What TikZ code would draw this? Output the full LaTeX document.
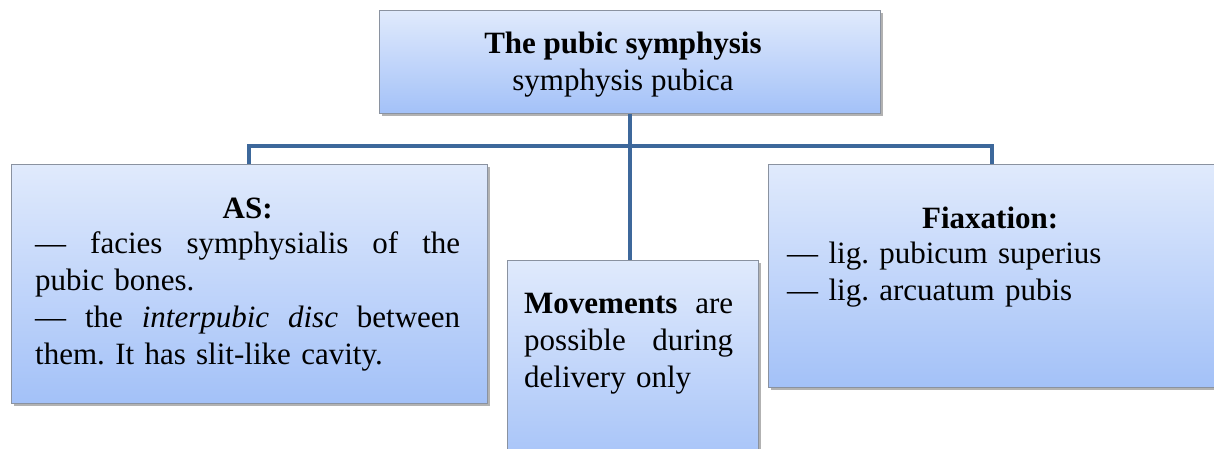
\documentclass[tikz,border=0pt]{standalone}
\usepackage{fontspec}
\setmainfont{Liberation Serif}
\usetikzlibrary{shadows}

\definecolor{boxtop}{RGB}{224,234,252}
\definecolor{boxbot}{RGB}{163,193,248}
\definecolor{boxrule}{RGB}{138,146,160}
\definecolor{linkblue}{RGB}{61,104,155}

% a line whose words are spread over the given width
\newcommand{\spreadline}[2]{\hbox to #1{#2}}

\tikzset{
  panel/.style={draw=boxrule, line width=0.9pt, top color=boxtop, bottom color=boxbot,
    inner sep=0pt, anchor=north west,
    drop shadow={shadow xshift=2.5pt, shadow yshift=-3pt, fill=black, opacity=0.3}},
  conn/.style={draw=linkblue, line width=4pt},
  txt/.style={inner sep=0pt, font=\fontsize{31}{37}\selectfont\frenchspacing},
}

\begin{document}
\begin{tikzpicture}[x=1pt, y=-1pt]
  \useasboundingbox (0,0) rectangle (1214,448);
  \clip (0,0) rectangle (1214,448);

  % boxes
  \node[panel, minimum width=501pt, minimum height=103pt] (top) at (379,10) {};
  \node[panel, minimum width=476pt, minimum height=239pt] (as) at (11,164) {};
  \node[panel, minimum width=251pt, minimum height=215pt] (mov) at (507,260) {};
  \node[panel, minimum width=448pt, minimum height=223pt] (fix) at (768,164) {};

  % connectors
  \coordinate (busy) at (0,146);
  \coordinate (bus) at (top.south |- busy);
  \draw[conn] (top.south) -- (top.south |- mov.north);
  \draw[conn] (as.north) |- (bus) -| (fix.north);

  % texts
  \node[txt, anchor=north, align=center] (toptext) at (623,27.1)
    {\strut\textbf{The pubic symphysis}\\symphysis pubica};

  \node[txt, anchor=north west, text width=425pt] (astext) at (35,192.1) {%
    \parindent=0pt
    {\centering\strut\textbf{AS:}\par}\vspace{-2pt}
    \raggedright
    \noindent\spreadline{425pt}{— \hfil facies \hfil symphysialis \hfil of \hfil the}\par
    \noindent pubic bones.\par
    \noindent\spreadline{425pt}{— \hfil the \hfil \textit{interpubic} \hfil \textit{disc} \hfil between}\par
    \noindent them. It has slit-like cavity.\par};

  \node[txt, anchor=north west, text width=209pt] (movtext) at (524,287.1) {%
    \parindent=0pt\raggedright
    \noindent\strut\spreadline{209pt}{\textbf{Movements} \hfil are}\par
    \noindent\spreadline{209pt}{possible \hfil during}\par
    \noindent delivery only\par};

  \node[txt, anchor=north west, text width=406pt] (fixtext) at (787,202.1) {%
    \parindent=0pt
    {\centering\strut\textbf{Fiaxation:}\par}\vspace{-2pt}
    \raggedright
    \noindent — lig. pubicum superius\par
    \noindent — lig. arcuatum pubis\par};
\end{tikzpicture}
\end{document}
